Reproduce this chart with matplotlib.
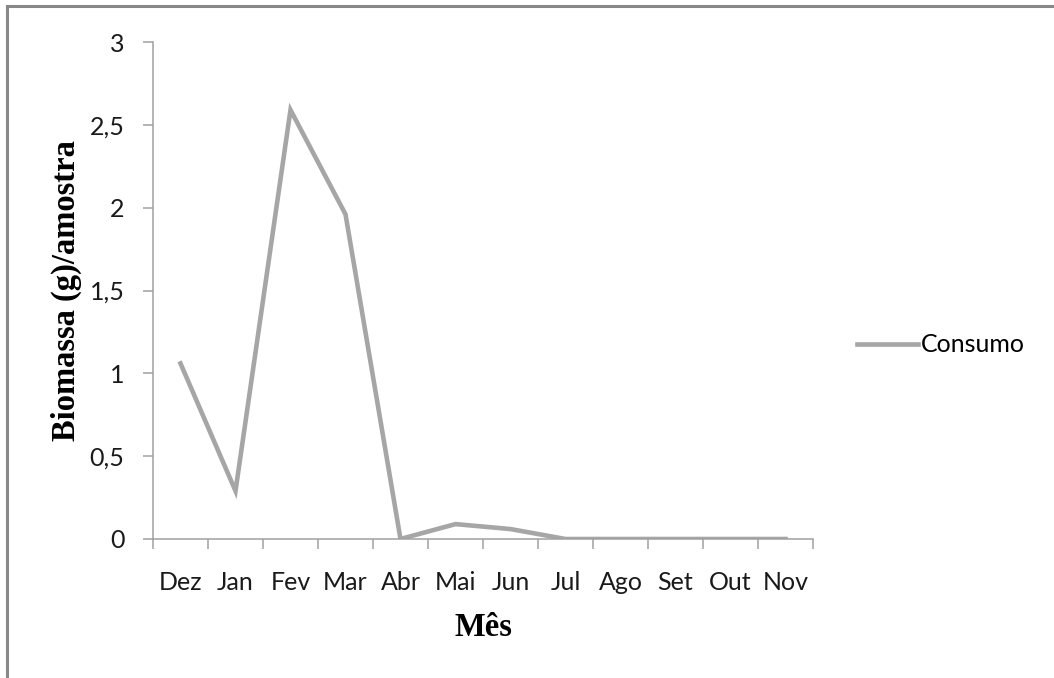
import matplotlib
matplotlib.use("Agg")
import matplotlib.pyplot as plt
from matplotlib.lines import Line2D
from matplotlib.ticker import FuncFormatter

# monthly consumption data
months = ["Dez", "Jan", "Fev", "Mar", "Abr", "Mai", "Jun", "Jul", "Ago", "Set", "Out", "Nov"]
consumo = [1.06, 0.29, 2.59, 1.96, 0.0, 0.09, 0.06, 0.0, 0.0, 0.0, 0.0, 0.0]
y_ticks = [0, 0.5, 1, 1.5, 2, 2.5, 3]

W, H = 1054, 678
fig = plt.figure(figsize=(W / 100, H / 100), dpi=100)
fig.patch.set_facecolor("white")

ax = fig.add_axes([153 / W, 1 - 539 / H, 660 / W, 497 / H])

line_col = "#a6a6a6"
axis_col = "#a0a0a0"
tick_font = "Lato"
label_font = "Liberation Serif"

x = list(range(len(months)))
ax.plot(x, consumo, color=line_col, lw=3.3, solid_joinstyle="miter", label="Consumo")

ax.set_xlim(-0.5, len(months) - 0.5)
ax.set_ylim(0, 3)

# tick marks on category boundaries, labels at category centres
ax.set_xticks([i - 0.5 for i in range(len(months) + 1)])
ax.set_xticklabels([])
ax.set_xticks(x, minor=True)
ax.set_xticklabels(months, minor=True, fontsize=18, family=tick_font, color="#1a1a1a")
ax.tick_params(axis="x", which="major", direction="out", length=7.5, width=1.1, color=axis_col)
ax.tick_params(axis="x", which="minor", length=0, pad=23)

ax.set_yticks(y_ticks)
ax.yaxis.set_major_formatter(FuncFormatter(lambda v, p: f"{v:g}".replace(".", ",")))
ax.tick_params(axis="y", direction="out", length=7.5, width=1.1, color=axis_col, pad=13,
               labelsize=18, labelcolor="#1a1a1a")
for lab in ax.get_yticklabels():
    lab.set_family(tick_font)

for side in ("top", "right"):
    ax.spines[side].set_visible(False)
for side in ("left", "bottom"):
    ax.spines[side].set_color(axis_col)
    ax.spines[side].set_linewidth(1.1)

ax.set_xlabel("Mês", fontsize=23.5, fontweight="bold", family=label_font)
ax.xaxis.set_label_coords(0.5, -0.147)
ax.set_ylabel("Biomassa (g)/amostra", fontsize=23.5, fontweight="bold", family=label_font)
ax.yaxis.set_label_coords(-0.108, 0.5)

ax.legend(loc="center left", bbox_to_anchor=(857 / W, 1 - 345 / H),
          bbox_transform=fig.transFigure, frameon=False, borderpad=0, borderaxespad=0,
          handlelength=2.45, handletextpad=0.1, prop={"family": tick_font, "size": 18})

# outer frame: top and left edges only
fig.add_artist(Line2D([7 / W, 1], [1 - 6 / H, 1 - 6 / H], transform=fig.transFigure,
                      color="#888888", lw=2.2))
fig.add_artist(Line2D([7 / W, 7 / W], [0, 1 - 6 / H], transform=fig.transFigure,
                      color="#888888", lw=2.2))

fig.savefig("out.png", dpi=100, facecolor="white")
